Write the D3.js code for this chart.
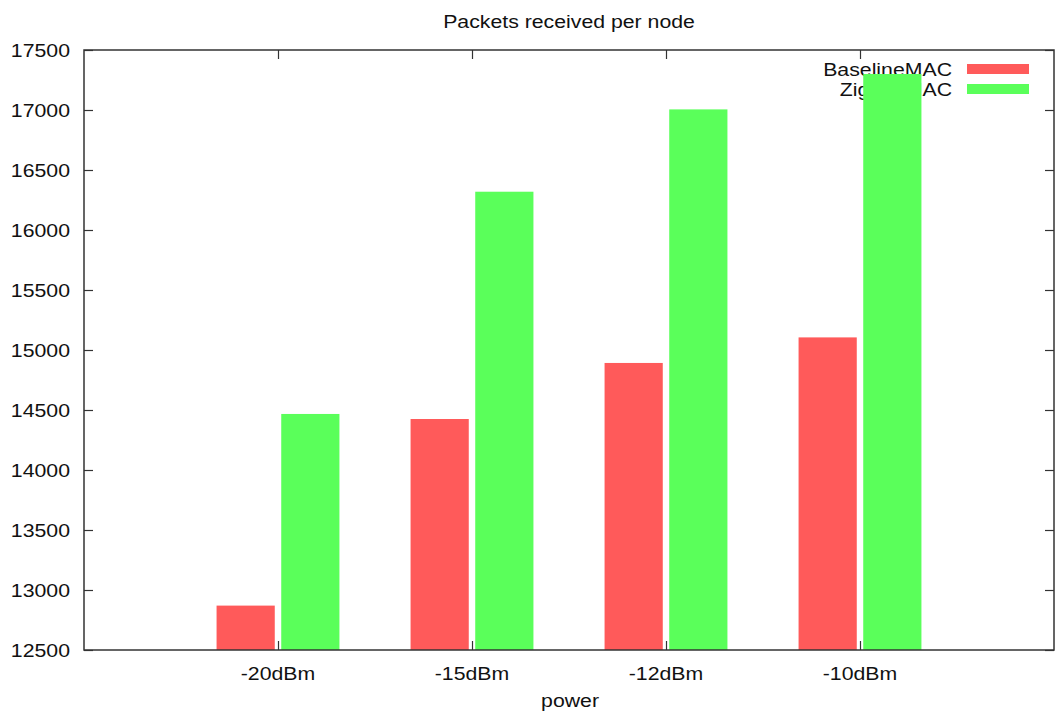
<!DOCTYPE html>
<html>
<head>
<meta charset="utf-8">
<script src="https://cdn.jsdelivr.net/npm/d3@7"></script>
<style>
  html, body { margin: 0; padding: 0; background: #fff; }
  svg { display: block; }
  text { font-family: "Liberation Sans", Arial, Helvetica, sans-serif; fill: #111; }
</style>
</head>
<body>
<svg id="chart" width="1055" height="713"></svg>
<script>
// ---- data ----
const categories = ["-20dBm", "-15dBm", "-12dBm", "-10dBm"];
const seriesNames = ["BaselineMAC", "ZigbeeMAC"];
const baselineValues = [12870, 14425, 14892, 15105];
const zigbeeValues = [14467, 16319, 17005, 17300];
const yTicks = [12500, 13000, 13500, 14000, 14500, 15000, 15500, 16000, 16500, 17000, 17500];
const seriesColors = ["#ff5a5a", "#5aff5a"];

(function () {
const svg = d3.select("#chart");
const pLeft = 84, pRight = 1054, pTop = 50, pBottom = 650;
const FS = 18.5, SX = 1.15;

const x = d3.scaleLinear().domain([-1, categories.length]).range([pLeft, pRight]);
const y = d3.scaleLinear().domain([12500, 17500]).range([pBottom, pTop]);

function label(g, tx, ty, str, anchor) {
  return g.append("text")
    .attr("transform", `translate(${tx},${ty}) scale(${SX},1)`)
    .attr("text-anchor", anchor)
    .attr("font-size", FS)
    .text(str);
}

// title
label(svg, 569, 27.5, "Packets received per node", "middle");
// x axis label
label(svg, 570, 706.5, "power", "middle");

// legend (drawn beneath bars)
const legend = svg.append("g");
seriesNames.forEach((name, i) => {
  const ly = 69 + i * 20;
  label(legend, 952, ly + 6.5, name, "end");
  legend.append("rect")
    .attr("x", 967).attr("y", ly - 5)
    .attr("width", 62).attr("height", 10)
    .attr("fill", seriesColors[i]);
});

// bars
const series = [baselineValues, zigbeeValues];
const clusterW = 1 / (series.length + 1);
const boxW = 0.9 * clusterW;
series.forEach((vals, s) => {
  const offset = (s - (series.length - 1) / 2) * clusterW;
  svg.append("g").selectAll("rect")
    .data(vals)
    .join("rect")
    .attr("x", (d, i) => x(i + offset - boxW / 2))
    .attr("width", (d, i) => x(i + offset + boxW / 2) - x(i + offset - boxW / 2))
    .attr("y", d => y(d))
    .attr("height", d => y.range()[0] - y(d))
    .attr("fill", seriesColors[s]);
});

// axes with mirrored inward ticks
const axisColor = "#333";
const yLeft = svg.append("g").attr("transform", `translate(${pLeft},0)`)
  .call(d3.axisRight(y).tickValues(yTicks).tickSize(9).tickFormat(""));
const yRight = svg.append("g").attr("transform", `translate(${pRight},0)`)
  .call(d3.axisLeft(y).tickValues(yTicks).tickSize(9).tickFormat(""));
const catIdx = categories.map((c, i) => i);
const xBottom = svg.append("g").attr("transform", `translate(0,${pBottom})`)
  .call(d3.axisTop(x).tickValues(catIdx).tickSize(9).tickFormat(""));
const xTop = svg.append("g").attr("transform", `translate(0,${pTop})`)
  .call(d3.axisBottom(x).tickValues(catIdx).tickSize(9).tickFormat(""));
[yLeft, yRight, xBottom, xTop].forEach(g => {
  g.select(".domain").remove();
  g.selectAll(".tick line").attr("stroke", axisColor).attr("stroke-width", 1.2);
});

// frame
svg.append("rect")
  .attr("x", pLeft).attr("y", pTop)
  .attr("width", pRight - pLeft).attr("height", pBottom - pTop)
  .attr("fill", "none").attr("stroke", axisColor).attr("stroke-width", 1.5);

// y tick labels
yTicks.forEach(t => label(svg, 70, y(t) + 6.7, d3.format("d")(t), "end"));
// x tick labels
categories.forEach((c, i) => label(svg, x(i), 680, c, "middle"));
})();
</script>
</body>
</html>
